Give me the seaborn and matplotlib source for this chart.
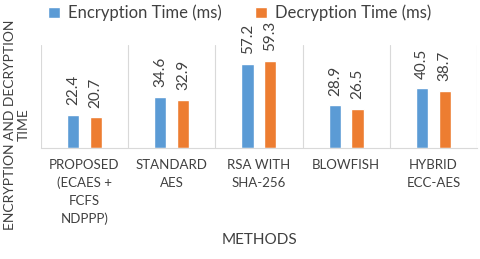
import numpy as np
import pandas as pd
import matplotlib
matplotlib.use("Agg")
import matplotlib.pyplot as plt
import seaborn as sns

# datos
metodos = ["PROPOSED\n(ECAES +\nFCFS\nNDPPP)", "STANDARD\nAES", "RSA WITH\nSHA-256",
           "BLOWFISH", "HYBRID\nECC-AES"]
enc = [22.4, 34.6, 57.2, 28.9, 40.5]
dec = [20.7, 32.9, 59.3, 26.5, 38.7]
series = ["Encryption Time (ms)", "Decryption Time (ms)"]
colores = ["#5B9BD5", "#ED7D31"]

df = pd.DataFrame({
    "metodo": metodos * 2,
    "valor": enc + dec,
    "serie": [series[0]] * len(metodos) + [series[1]] * len(metodos),
})

sns.set_style("white")
plt.rcParams["font.family"] = ["Lato", "DejaVu Sans"]

fig = plt.figure(figsize=(4.8, 2.59), dpi=100)
ax = fig.add_axes([0.085, 0.429, 0.909, 0.397])

sns.barplot(data=df, x="metodo", y="valor", hue="serie", palette=colores,
            width=0.52, gap=0.46, saturation=1, ax=ax, legend=True)

ax.set_ylim(0, 70)
ax.set_xlim(-0.5, len(metodos) - 0.5)
ax.set_yticks([])
ax.set_ylabel("")
ax.set_xlabel("")

# separadores verticales entre grupos
for x in np.arange(-0.5, len(metodos), 1.0):
    ax.axvline(x, color="#D9D9D9", lw=0.8, zorder=0)
for s in ["top", "right", "left"]:
    ax.spines[s].set_visible(False)
ax.spines["bottom"].set_color("#D9D9D9")

ax.tick_params(axis="x", length=0, pad=8, labelsize=9.5, labelcolor="#404040")
for lbl in ax.get_xticklabels():
    lbl.set_linespacing(1.55)

# etiquetas de valor giradas
for cont in ax.containers:
    ax.bar_label(cont, fmt="%.1f", rotation=90, padding=7, fontsize=11, color="#404040")

h, l = ax.get_legend_handles_labels()
ax.get_legend().remove()
fig.legend(h, l, loc="upper center", bbox_to_anchor=(0.5, 1.04), ncol=2,
           frameon=False, fontsize=12, handlelength=0.7, handleheight=0.7,
           columnspacing=2.0, handletextpad=0.5, labelcolor="#404040")

fig.text(0.54, 0.073, "METHODS", ha="center", va="center", fontsize=11, color="#404040")

fig.text(0.035, 0.52, "ENCRYPTION AND DECRYPTION\nTIME", rotation=90,
         ha="center", va="center", fontsize=10, color="#404040",
         multialignment="center")

plt.savefig("out.png", dpi=100)
